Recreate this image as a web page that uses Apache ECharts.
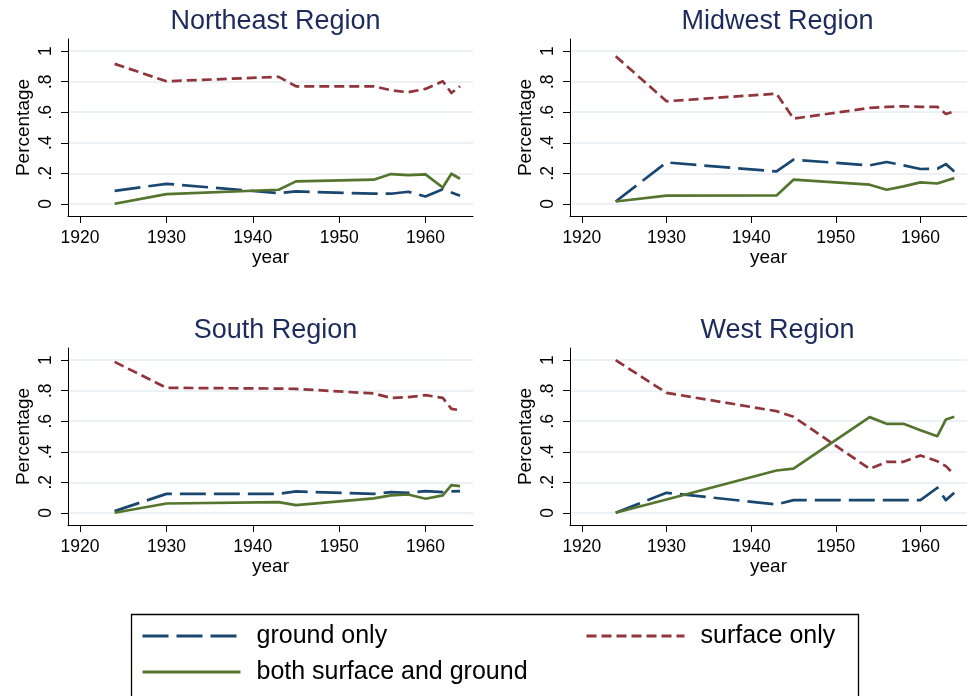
<!DOCTYPE html>
<html><head><meta charset="utf-8">
<script src="https://cdn.jsdelivr.net/npm/echarts@6/dist/echarts.min.js"></script>
<style>html,body{margin:0;padding:0;background:#fff}#c{width:967px;height:696px}</style>
</head><body><div id="c"></div>
<script>
const years = [1924, 1930, 1943, 1945, 1954, 1956, 1958, 1960, 1962, 1963, 1964];
const regionTitles = ['Northeast Region', 'Midwest Region', 'South Region', 'West Region'];
const xTicks = [1920, 1930, 1940, 1950, 1960];
const yTicks = [0, 0.2, 0.4, 0.6, 0.8, 1];
const seriesNames = ['ground only', 'surface only', 'both surface and ground'];

const groundNE  = [0.085, 0.131, 0.070, 0.081, 0.066, 0.066, 0.079, 0.048, 0.096, 0.074, 0.053];
const surfaceNE = [0.917, 0.803, 0.832, 0.770, 0.770, 0.744, 0.731, 0.753, 0.803, 0.726, 0.770];
const bothNE    = [0.000, 0.063, 0.092, 0.147, 0.158, 0.195, 0.188, 0.193, 0.107, 0.197, 0.164];

const groundMW  = [0.015, 0.271, 0.212, 0.289, 0.252, 0.274, 0.252, 0.228, 0.230, 0.260, 0.212];
const surfaceMW = [0.967, 0.672, 0.722, 0.558, 0.628, 0.635, 0.639, 0.635, 0.635, 0.589, 0.606];
const bothMW    = [0.015, 0.053, 0.055, 0.158, 0.125, 0.092, 0.114, 0.140, 0.133, 0.151, 0.168];

const groundS   = [0.011, 0.124, 0.124, 0.140, 0.124, 0.135, 0.131, 0.142, 0.135, 0.140, 0.142];
const surfaceS  = [0.989, 0.819, 0.814, 0.812, 0.782, 0.753, 0.758, 0.771, 0.753, 0.681, 0.672];
const bothS     = [0.000, 0.061, 0.070, 0.050, 0.094, 0.114, 0.120, 0.092, 0.114, 0.181, 0.175];

const groundW   = [0.000, 0.131, 0.055, 0.083, 0.083, 0.083, 0.083, 0.083, 0.164, 0.083, 0.131];
const surfaceW  = [1.000, 0.786, 0.666, 0.629, 0.288, 0.334, 0.334, 0.376, 0.338, 0.306, 0.251];
const bothW     = [0.000, 0.087, 0.277, 0.290, 0.627, 0.583, 0.583, 0.541, 0.502, 0.611, 0.629];

const regionData = [
  [groundNE, surfaceNE, bothNE],
  [groundMW, surfaceMW, bothMW],
  [groundS, surfaceS, bothS],
  [groundW, surfaceW, bothW]
];

const FONT = '"Liberation Sans", Arial, sans-serif';
const colors = ['#1a476f', '#90353b', '#55752f'];
const dashes = [[26, 8], [10, 5], 'solid'];
const panels = [
  { left: 68, top: 39 }, { left: 570, top: 39 },
  { left: 68, top: 348 }, { left: 570, top: 348 }
];
const PW = 405, PH = 177;

const grids = [], xAxes = [], yAxes = [], series = [], titles = [];
panels.forEach((p, i) => {
  grids.push({ left: p.left, top: p.top, width: PW, height: PH, containLabel: false });
  titles.push({
    text: regionTitles[i], left: p.left + PW / 2, top: p.top - 36, textAlign: 'center',
    textStyle: { fontFamily: FONT, fontSize: 27, fontWeight: 'normal', color: '#1c2a5c' }
  });
  xAxes.push({
    type: 'value', gridIndex: i, min: 1918.6, max: 1965.5,
    name: 'year', nameLocation: 'middle', nameGap: 32,
    nameTextStyle: { fontFamily: FONT, fontSize: 19, color: '#000' },
    axisLine: { show: true, onZero: false, lineStyle: { color: '#000', width: 1 } },
    axisTick: { show: true, length: 7, customValues: xTicks, lineStyle: { color: '#000', width: 1 } },
    axisLabel: { customValues: xTicks, margin: 13, fontFamily: FONT, fontSize: 17.5, color: '#000',
      formatter: v => String(Math.round(v)) },
    splitLine: { show: false }
  });
  yAxes.push({
    type: 'value', gridIndex: i, min: -0.08, max: 1.08,
    name: 'Percentage', nameLocation: 'middle', nameGap: 35, nameRotate: 90,
    nameTextStyle: { fontFamily: FONT, fontSize: 19, color: '#000' },
    axisLine: { show: true, onZero: false, lineStyle: { color: '#000', width: 1 } },
    axisTick: { show: true, length: 7, customValues: yTicks, lineStyle: { color: '#000', width: 1 } },
    axisLabel: {
      customValues: yTicks, rotate: 90, margin: 13, fontFamily: FONT, fontSize: 17.5, color: '#000',
      formatter: v => (v === 0 ? '0' : v === 1 ? '1' : v.toFixed(1).replace(/^0/, ''))
    },
    splitLine: { show: true, lineStyle: { color: '#e4ecf0', width: 1.5 } }
  });
  regionData[i].forEach((vals, k) => {
    series.push({
      name: seriesNames[k], type: 'line', xAxisIndex: i, yAxisIndex: i,
      data: years.map((y, j) => [y, vals[j]]),
      symbol: 'none', showSymbol: false, silent: true, animation: false,
      lineStyle: { color: colors[k], width: 2.7, type: dashes[k], cap: 'butt', join: 'round' },
      itemStyle: { color: colors[k] }, z: 2 + k
    });
  });
});

const legendBase = {
  orient: 'horizontal', itemWidth: 98, itemHeight: 14, padding: 0,
  itemGap: 16, selectedMode: false,
  lineStyle: { width: 3 },
  itemStyle: { opacity: 0 },
  textStyle: { fontFamily: FONT, fontSize: 25, color: '#000', lineHeight: 30, padding: [0, 0, 0, 11] }
};
const legends = [
  Object.assign({}, legendBase, { left: 141, top: 621, data: ['ground only'] }),
  Object.assign({}, legendBase, { left: 585, top: 621, data: ['surface only'] }),
  Object.assign({}, legendBase, { left: 141, top: 657, data: ['both surface and ground'] })
];

const chart = echarts.init(document.getElementById('c'), null, { renderer: 'canvas' });
chart.setOption({
  backgroundColor: '#fff',
  animation: false,
  title: titles,
  grid: grids,
  xAxis: xAxes,
  yAxis: yAxes,
  legend: legends,
  series: series,
  graphic: [{
    type: 'rect', left: 129, top: 612, shape: { width: 727, height: 110 },
    style: { fill: 'none', stroke: '#000', lineWidth: 1.3 }, silent: true, z: 0
  }]
});
</script></body></html>
